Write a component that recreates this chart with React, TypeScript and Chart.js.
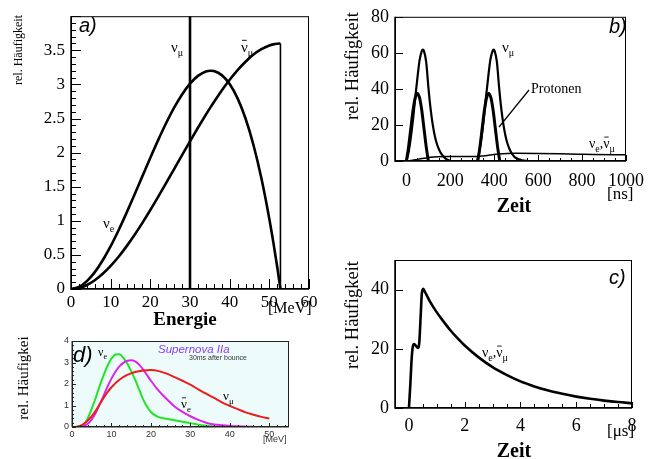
import React, { useEffect, useRef } from 'react';
import { Chart, registerables } from 'chart.js';
Chart.register(...registerables);

const W = 653;
const H = 459;
const SERIF = '"Liberation Serif", "Times New Roman", serif';
const SANS = '"Liberation Sans", Arial, sans-serif';

// ---------- Panel a: energy spectra ----------
const aEnergy = [0, 2, 4, 6, 8, 10, 12, 14, 16, 18, 20, 22, 24, 26, 28, 30, 32, 34, 35.2, 36, 38, 40, 42, 44, 46, 48, 50, 51, 52, 52.8];
const aNuE = [0, 0.03, 0.115, 0.247, 0.421, 0.628, 0.862, 1.116, 1.382, 1.655, 1.925, 2.187, 2.434, 2.659, 2.853, 3.011, 3.125, 3.19, 3.2, 3.195, 3.136, 3.005, 2.795, 2.5, 2.112, 1.623, 1.027, 0.687, 0.318, 0];
const aNuMuBar = [0, 0.015, 0.059, 0.129, 0.223, 0.339, 0.473, 0.625, 0.791, 0.97, 1.158, 1.354, 1.555, 1.759, 1.963, 2.166, 2.364, 2.556, 2.667, 2.738, 2.911, 3.068, 3.21, 3.332, 3.437, 3.516, 3.571, 3.587, 3.596, 3.6];
const aNuMuEnergy = 30;
const aXTicks = [0, 10, 20, 30, 40, 50, 60];
const aYTicks = [0, 0.5, 1, 1.5, 2, 2.5, 3, 3.5];

// ---------- Panel b: time structure (ns) ----------
const bProtonT = [0, 10, 20, 30, 40, 50, 60, 70, 80, 90, 100, 200, 325, 335, 345, 355, 365, 375, 385, 395, 405, 415, 425];
const bProtonV = [0, 8, 18, 28, 35, 37.5, 35, 28, 18, 8, 0, null, 0, 8, 18, 28, 35, 37.5, 35, 28, 18, 8, 0];
const bNuMuT = [0, 10, 20, 30, 40, 50, 60, 70, 75, 80, 90, 100, 110, 120, 130, 140, 150, 160, 170, 180, 190, 200, 260, 322, 332, 342, 352, 362, 372, 382, 392, 397, 402, 412, 422, 432, 442, 452, 462, 472, 482, 492, 502, 512, 522, 535, 550];
const bNuMuV = [0, 5, 13, 23, 35, 46, 56, 61, 61.8, 61, 55, 41, 29, 20, 13.5, 9, 6, 3.8, 2.3, 1.2, 0.5, 0, null, 0, 5, 13, 23, 35, 46, 56, 61, 61.8, 61, 55, 41, 29, 20, 13.5, 9, 6, 3.8, 2.3, 1.5, 0.9, 0.5, 0.2, 0];
const bNuET = [0, 20, 50, 80, 110, 140, 180, 250, 320, 350, 380, 420, 460, 500, 600, 700, 780, 850, 1000];
const bNuEV = [0, 0.3, 0.9, 1.5, 2.1, 2.4, 2.5, 2.5, 2.5, 2.8, 3.3, 3.9, 4.2, 4.3, 4.2, 4.0, 3.8, 3.6, 3.4];
const bXTicks = [0, 200, 400, 600, 800, 1000];
const bYTicks = [0, 20, 40, 60, 80];

// ---------- Panel c: time structure (µs) ----------
const cT = [0, 0.05, 0.1, 0.14, 0.19, 0.26, 0.33, 0.37, 0.42, 0.46, 0.51, 0.56, 0.75, 1, 1.25, 1.5, 1.75, 2, 2.5, 3, 3.5, 4, 4.5, 5, 5.5, 6, 6.5, 7, 7.5, 8];
const cV = [0, 8, 17, 20.8, 21.6, 20.9, 20.3, 22, 31, 38.5, 40.3, 39.5, 36.0, 32.3, 29.1, 26.1, 23.5, 21.1, 17.1, 13.8, 11.2, 9.0, 7.3, 5.9, 4.8, 3.85, 3.1, 2.5, 2.0, 1.6];
const cXTicks = [0, 2, 4, 6, 8];
const cYTicks = [0, 20, 40];

// ---------- Panel d: supernova spectra ----------
const dNuEE = [0, 2, 3, 4, 5, 6, 7, 8, 9, 10, 11, 12, 13, 14, 15, 16, 17, 18, 19, 20, 21, 22, 24, 26, 28, 30, 32, 34, 36, 38];
const dNuEV = [0, 0.03, 0.12, 0.4, 0.85, 1.35, 1.9, 2.4, 2.85, 3.18, 3.37, 3.38, 3.22, 2.95, 2.6, 2.2, 1.75, 1.3, 0.95, 0.7, 0.55, 0.46, 0.38, 0.31, 0.24, 0.18, 0.11, 0.06, 0.02, 0];
const dNuEBarE = [2, 3, 4, 5, 6, 7, 8, 9, 10, 11, 12, 13, 14, 15, 16, 17, 18, 19, 20, 22, 24, 26, 28, 30, 32, 34, 36, 38, 40, 42, 44, 46];
const dNuEBarV = [0, 0.05, 0.15, 0.35, 0.65, 1.05, 1.45, 1.88, 2.25, 2.57, 2.82, 2.98, 3.08, 3.1, 3.05, 2.9, 2.68, 2.42, 2.15, 1.68, 1.3, 0.95, 0.7, 0.5, 0.33, 0.2, 0.12, 0.08, 0.05, 0.03, 0.02, 0.01];
const dNuMuE = [1, 2, 3, 4, 5, 6, 7, 8, 9, 10, 12, 14, 16, 18, 20, 22, 24, 26, 28, 30, 32, 34, 36, 38, 40, 42, 44, 46, 48, 50];
const dNuMuV = [0, 0.05, 0.15, 0.3, 0.5, 0.75, 1.05, 1.35, 1.62, 1.85, 2.2, 2.42, 2.56, 2.63, 2.65, 2.6, 2.48, 2.32, 2.15, 1.97, 1.75, 1.55, 1.35, 1.15, 0.98, 0.83, 0.68, 0.57, 0.47, 0.39];
const dXTicks = [0, 10, 20, 30, 40, 50];
const dYTicks = [0, 1, 2, 3, 4];

// ---------- helpers ----------
const pts = (xs: number[], ys: (number | null)[]) => xs.map((x, i) => ({ x, y: ys[i] }));

function axis(min: number, max: number, ticks: number[], font: any, pad: number, fixed: number, isX: boolean, color = '#000') {
  return {
    type: 'linear',
    min,
    max,
    afterBuildTicks: (s: any) => {
      s.ticks = ticks.map((v) => ({ value: v }));
    },
    afterFit: (s: any) => {
      if (isX) s.height = fixed;
      else s.width = fixed;
    },
    grid: { display: false, drawTicks: false },
    border: { display: false },
    ticks: { font, color, padding: pad, autoSkip: false, maxRotation: 0, callback: (v: any) => String(v) },
  };
}

function line(data: any[], color: string, width: number, mono = true) {
  return {
    data,
    borderColor: color,
    borderWidth: width,
    pointRadius: 0,
    fill: false,
    spanGaps: false,
    cubicInterpolationMode: mono ? 'monotone' : 'default',
    tension: 0,
  };
}

function frame(chart: any, color: string, axisW: number) {
  const { ctx, chartArea: a } = chart;
  ctx.save();
  ctx.strokeStyle = color;
  ctx.lineWidth = 1;
  ctx.strokeRect(a.left + 0.5, a.top + 0.5, a.right - a.left - 1, a.bottom - a.top - 1);
  ctx.lineWidth = axisW;
  ctx.beginPath();
  ctx.moveTo(a.left, a.top);
  ctx.lineTo(a.left, a.bottom);
  ctx.lineTo(a.right, a.bottom);
  ctx.stroke();
  ctx.restore();
}

function ticksIn(chart: any, axisName: 'x' | 'y', from: number, to: number, step: number, majorEvery: number, majLen: number, minLen: number, color = '#000') {
  const { ctx, chartArea: a } = chart;
  const s = chart.scales[axisName];
  ctx.save();
  ctx.strokeStyle = color;
  ctx.lineWidth = 1;
  ctx.beginPath();
  const n = Math.round((to - from) / step);
  for (let i = 0; i <= n; i++) {
    const v = from + i * step;
    const isMajor = Math.abs(v / majorEvery - Math.round(v / majorEvery)) < 1e-6;
    const len = isMajor ? majLen : minLen;
    const p = Math.round(s.getPixelForValue(v)) + 0.5;
    if (axisName === 'x') {
      ctx.moveTo(p, a.bottom);
      ctx.lineTo(p, a.bottom - len);
    } else {
      ctx.moveTo(a.left, p);
      ctx.lineTo(a.left + len, p);
    }
  }
  ctx.stroke();
  ctx.restore();
}

function text(ctx: any, s: string, x: number, y: number, font: string, align = 'left', color = '#000') {
  ctx.save();
  ctx.font = font;
  ctx.fillStyle = color;
  ctx.textAlign = align;
  ctx.textBaseline = 'alphabetic';
  ctx.fillText(s, x, y);
  ctx.restore();
}

function vtext(ctx: any, s: string, cx: number, cy: number, font: string) {
  ctx.save();
  ctx.translate(cx, cy);
  ctx.rotate(-Math.PI / 2);
  ctx.font = font;
  ctx.fillStyle = '#000';
  ctx.textAlign = 'center';
  ctx.textBaseline = 'middle';
  ctx.fillText(s, 0, 0);
  ctx.restore();
}

// draws ν with subscript, optional bar; list separated by commas
function nus(ctx: any, x: number, y: number, size: number, parts: { sub: string; bar?: boolean }[]) {
  ctx.save();
  ctx.fillStyle = '#000';
  ctx.strokeStyle = '#000';
  ctx.textBaseline = 'alphabetic';
  ctx.textAlign = 'left';
  let cx = x;
  parts.forEach((p, i) => {
    if (i > 0) {
      ctx.font = `${size}px ${SERIF}`;
      ctx.fillText(',', cx, y);
      cx += ctx.measureText(',').width;
    }
    ctx.font = `${size}px ${SERIF}`;
    ctx.fillText('ν', cx, y);
    const w = ctx.measureText('ν').width;
    if (p.bar) {
      ctx.lineWidth = Math.max(0.8, size / 16);
      ctx.beginPath();
      ctx.moveTo(cx + w * 0.15, y - size * 0.78);
      ctx.lineTo(cx + w * 0.85, y - size * 0.78);
      ctx.stroke();
    }
    cx += w;
    ctx.font = `${Math.round(size * 0.68)}px ${SERIF}`;
    ctx.fillText(p.sub, cx, y + size * 0.28);
    cx += ctx.measureText(p.sub).width;
  });
  ctx.restore();
}

function baseOptions(area: { L: number; T: number; R: number; B: number }, wy: number, hx: number, scales: any) {
  return {
    animation: false,
    responsive: false,
    events: [],
    layout: {
      autoPadding: false,
      padding: { left: area.L - wy, top: area.T, right: W - area.R, bottom: H - area.B - hx },
    },
    plugins: { legend: { display: false }, tooltip: { enabled: false }, title: { display: false } },
    elements: { point: { radius: 0 } },
    scales,
  };
}

// ---------- configs ----------
function configA(): any {
  const serif17 = { family: SERIF, size: 17 };
  const lastE = aEnergy[aEnergy.length - 1];
  const lastV = aNuMuBar[aNuMuBar.length - 1];
  return {
    type: 'line',
    data: {
      datasets: [
        line(pts(aEnergy, aNuE), '#000', 2.6),
        line(pts(aEnergy, aNuMuBar), '#000', 2.6),
        line([{ x: lastE, y: lastV }, { x: lastE, y: 0 }], '#000', 1.6, false),
        line([{ x: aNuMuEnergy, y: 0 }, { x: aNuMuEnergy, y: 4 }], '#000', 2.6, false),
      ],
    },
    options: baseOptions({ L: 71, T: 14, R: 309, B: 289 }, 40, 24, {
      x: axis(0, 60, aXTicks, serif17, 3, 24, true),
      y: axis(0, 4, aYTicks, serif17, 6, 40, false),
    }),
    plugins: [
      {
        id: 'aExtra',
        afterDraw(chart: any) {
          const ctx = chart.ctx;
          frame(chart, '#000', 1.5);
          ticksIn(chart, 'x', 0, 60, 2, 10, 10, 5);
          ticksIn(chart, 'y', 0, 4, 0.1, 0.5, 10, 5);
          text(ctx, 'a)', 79, 32, `italic 20px ${SANS}`);
          nus(ctx, 171, 52, 15, [{ sub: 'μ' }]);
          nus(ctx, 241, 52, 15, [{ sub: 'μ', bar: true }]);
          nus(ctx, 103, 228, 15, [{ sub: 'e' }]);
          vtext(ctx, 'rel. Häufigkeit', 19, 50, `12px ${SERIF}`);
          text(ctx, 'Energie', 185, 325, `bold 19px ${SERIF}`, 'center');
          text(ctx, '[MeV]', 268, 313, `16px ${SERIF}`);
        },
      },
    ],
  };
}

function configB(): any {
  const serif18 = { family: SERIF, size: 18 };
  return {
    type: 'line',
    data: {
      datasets: [
        line(pts(bNuET, bNuEV), '#000', 1.5),
        line(pts(bProtonT, bProtonV), '#000', 3),
        line(pts(bNuMuT, bNuMuV), '#000', 2.2),
      ],
    },
    options: baseOptions({ L: 395, T: 14, R: 632, B: 161 }, 30, 30, {
      x: axis(-52, 1000, bXTicks, serif18, 9, 30, true),
      y: axis(0, 80, bYTicks, serif18, 6, 30, false),
    }),
    plugins: [
      {
        id: 'bExtra',
        afterDraw(chart: any) {
          const ctx = chart.ctx;
          frame(chart, '#000', 1.5);
          ticksIn(chart, 'x', 0, 1000, 50, 200, 6, 3);
          ticksIn(chart, 'y', 0, 80, 20, 20, 8, 8);
          text(ctx, 'b)', 609, 33, `italic 20px ${SANS}`);
          nus(ctx, 502, 52, 15, [{ sub: 'μ' }]);
          text(ctx, 'Protonen', 531, 93, `14px ${SERIF}`);
          ctx.save();
          ctx.strokeStyle = '#000';
          ctx.lineWidth = 1.2;
          ctx.beginPath();
          ctx.moveTo(529, 90);
          ctx.lineTo(499, 127);
          ctx.stroke();
          ctx.restore();
          nus(ctx, 589, 148, 14, [{ sub: 'e' }, { sub: 'μ', bar: true }]);
          vtext(ctx, 'rel. Häufigkeit', 353, 66, `18.5px ${SERIF}`);
          text(ctx, 'Zeit', 514, 212, `bold 20px ${SERIF}`, 'center');
          text(ctx, '[ns]', 607, 199, `17px ${SERIF}`);
        },
      },
    ],
  };
}

function configC(): any {
  const serif18 = { family: SERIF, size: 18 };
  return {
    type: 'line',
    data: { datasets: [line(pts(cT, cV), '#000', 2.6)] },
    options: baseOptions({ L: 395, T: 260, R: 632, B: 408 }, 30, 30, {
      x: axis(-0.5, 8, cXTicks, serif18, 7, 30, true),
      y: axis(0, 50, cYTicks, serif18, 6, 30, false),
    }),
    plugins: [
      {
        id: 'cExtra',
        afterDraw(chart: any) {
          const ctx = chart.ctx;
          frame(chart, '#000', 1.5);
          ticksIn(chart, 'x', 0, 8, 0.5, 2, 6, 4);
          ticksIn(chart, 'y', 0, 40, 20, 20, 8, 8);
          text(ctx, 'c)', 609, 284, `italic 20px ${SANS}`);
          nus(ctx, 482, 357, 14, [{ sub: 'e' }, { sub: 'μ', bar: true }]);
          vtext(ctx, 'rel. Häufigkeit', 353, 315, `18.5px ${SERIF}`);
          text(ctx, 'Zeit', 514, 457, `bold 20px ${SERIF}`, 'center');
          text(ctx, '[μs]', 607, 436, `17px ${SERIF}`);
        },
      },
    ],
  };
}

function configD(): any {
  const sans9 = { family: SANS, size: 9 };
  return {
    type: 'line',
    data: {
      datasets: [
        line(pts(dNuMuE, dNuMuV), '#ee1c1c', 2),
        line(pts(dNuEBarE, dNuEBarV), '#dd22ee', 2),
        line(pts(dNuEE, dNuEV), '#22e422', 2),
      ],
    },
    options: baseOptions({ L: 72, T: 341, R: 289, B: 427 }, 20, 14, {
      x: axis(0, 55, dXTicks, sans9, 2, 14, true, '#333'),
      y: axis(0, 4, dYTicks, sans9, 3, 20, false, '#333'),
    }),
    plugins: [
      {
        id: 'dBg',
        beforeDatasetsDraw(chart: any) {
          const { ctx, chartArea: a } = chart;
          ctx.save();
          ctx.fillStyle = '#eefbfb';
          ctx.fillRect(a.left, a.top, a.right - a.left, a.bottom - a.top);
          ctx.restore();
        },
        afterDraw(chart: any) {
          const ctx = chart.ctx;
          frame(chart, '#222', 1);
          ticksIn(chart, 'x', 0, 54, 2, 10, 4, 2, '#222');
          ticksIn(chart, 'y', 0, 4, 0.2, 1, 4, 2, '#222');
          text(ctx, 'd)', 73, 362, `italic 22px ${SANS}`);
          nus(ctx, 98, 356, 12, [{ sub: 'e' }]);
          text(ctx, 'Supernova IIa', 158, 353, `italic 11.5px ${SANS}`, 'left', '#8a3cf5');
          text(ctx, '30ms after bounce', 189, 360, `7px ${SANS}`, 'left', '#333');
          nus(ctx, 181, 408, 13, [{ sub: 'e', bar: true }]);
          nus(ctx, 223, 400, 13, [{ sub: 'μ' }]);
          vtext(ctx, 'rel. Häufigkei', 24, 378, `15px ${SERIF}`);
          text(ctx, '[MeV]', 263, 442, `9px ${SANS}`, 'left', '#333');
        },
      },
    ],
  };
}

function Panel({ make }: { make: () => any }) {
  const ref = useRef<HTMLCanvasElement | null>(null);
  useEffect(() => {
    if (!ref.current) return;
    const chart = new Chart(ref.current, make());
    return () => chart.destroy();
  }, [make]);
  return (
    <canvas
      ref={ref}
      width={W}
      height={H}
      style={{ position: 'absolute', left: 0, top: 0, width: W, height: H }}
    />
  );
}

export default function App() {
  return (
    <div style={{ position: 'fixed', left: 0, top: 0, width: W, height: H, background: '#fff', overflow: 'hidden' }}>
      <Panel make={configA} />
      <Panel make={configB} />
      <Panel make={configC} />
      <Panel make={configD} />
    </div>
  );
}
